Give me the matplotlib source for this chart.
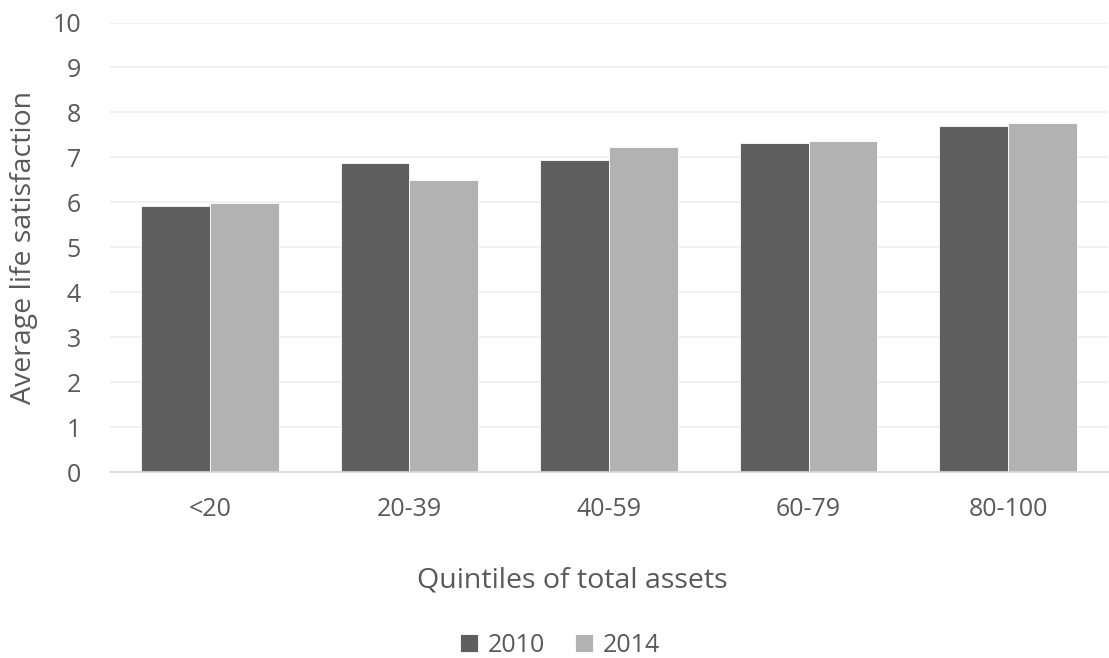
import numpy as np
import matplotlib.pyplot as plt

plt.rcParams['font.family'] = ['Open Sans', 'DejaVu Sans']

quintis = ['<20', '20-39', '40-59', '60-79', '80-100']
anos = ['2010', '2014']
sat_2010 = [5.92, 6.87, 6.95, 7.32, 7.70]
sat_2014 = [5.98, 6.50, 7.22, 7.37, 7.77]

cor_texto = '#595959'
cores = ['#5f5f5f', '#b2b2b2']

fig = plt.figure(figsize=(11.09, 6.58), dpi=100)
ax = fig.add_axes([110 / 1109, 186 / 658, 998 / 1109, 449.5 / 658])

index = np.arange(len(quintis))
bar_width = 0.345

ax.bar(index - bar_width / 2, sat_2010, bar_width, color=cores[0],
       edgecolor='white', linewidth=0.6, label=anos[0], zorder=3)
ax.bar(index + bar_width / 2, sat_2014, bar_width, color=cores[1],
       edgecolor='white', linewidth=0.6, label=anos[1], zorder=3)

ax.set_xlim(-0.5, len(quintis) - 0.5)
ax.set_ylim(0, 10)
ax.set_yticks(range(0, 11))
ax.yaxis.grid(True, color='#ededed', linewidth=1.2, zorder=0)
ax.set_axisbelow(True)

for lado in ['top', 'right', 'left']:
    ax.spines[lado].set_visible(False)
ax.spines['bottom'].set_color('#d9d9d9')
ax.spines['bottom'].set_linewidth(1.2)
ax.spines['bottom'].set_zorder(4)

ax.set_xticks(index)
ax.set_xticklabels(quintis)
ax.tick_params(axis='both', length=0, labelsize=18, labelcolor=cor_texto)
ax.tick_params(axis='x', pad=18)
ax.tick_params(axis='y', pad=21)

ax.set_ylabel('Average life satisfaction', fontsize=20.5, color=cor_texto, labelpad=10)
fig.text(572 / 1109, 1 - 580 / 658, 'Quintiles of total assets', fontsize=20.5,
         color=cor_texto, ha='center', va='center')

fig.legend(loc='center', bbox_to_anchor=(560 / 1109, 1 - 645 / 658), ncol=2,
           frameon=False, fontsize=18, labelcolor=cor_texto,
           handlelength=0.7, handleheight=0.7, handletextpad=0.4,
           columnspacing=1.2)

plt.savefig('out.png', dpi=100)
